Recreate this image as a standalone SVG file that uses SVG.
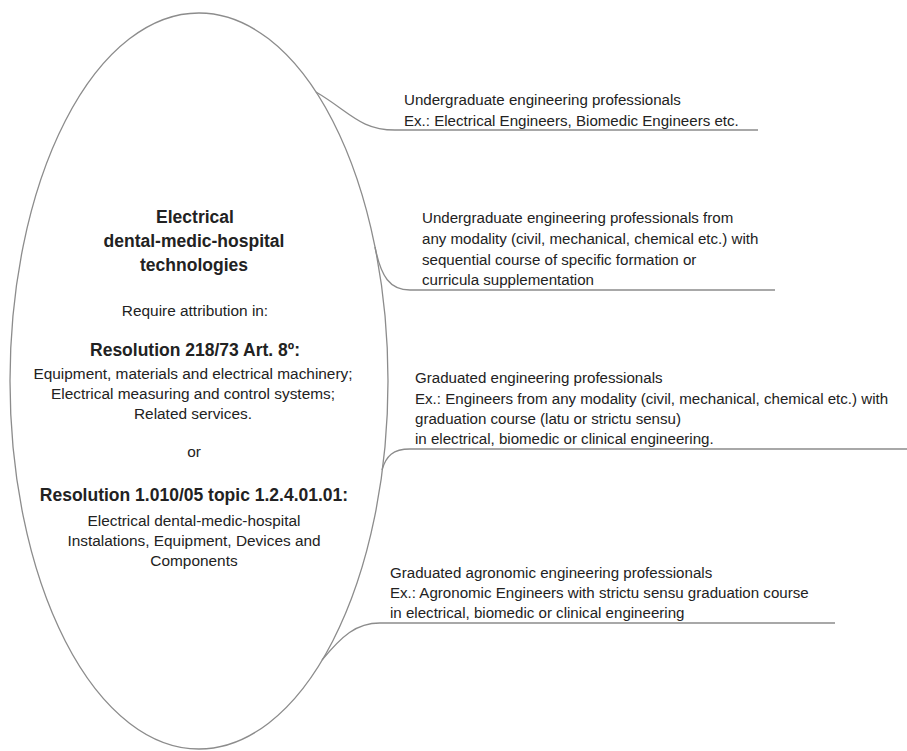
<svg xmlns="http://www.w3.org/2000/svg" width="907" height="751" viewBox="0 0 907 751">
<style>
.bg{fill:#ffffff}
.shape{fill:none;stroke:#8c8c8c;stroke-width:1.3}
.conn{fill:none;stroke:#8c8c8c;stroke-width:1.3}
.t{font-family:"Liberation Sans",Arial,sans-serif;fill:#222222}
.title{font-size:17.5px;font-weight:bold;text-anchor:middle}
.body{font-size:15.4px;text-anchor:middle}
.side{font-size:15.1px}
</style>
<rect class="bg" x="0" y="0" width="907" height="751"/>
<g id="connectors">
<path class="conn" d="M316,92 C350,112 360,130 395,130 L758,130"/>
<path class="conn" d="M375,247 C381,277 390,290 410,290 L775,290"/>
<path class="conn" d="M382,470 C386,456 393,449 410,449 L907,449"/>
<path class="conn" d="M322,660 C342,636 356,623 380,623 L835,623"/>
</g>
<g id="node-main">
<ellipse class="shape" cx="199" cy="381" rx="189" ry="368"/>
<text class="t title" x="195" y="223">Electrical</text>
<text class="t title" x="194" y="247">dental-medic-hospital</text>
<text class="t title" x="194" y="271">technologies</text>
<text class="t body" x="195" y="316">Require attribution in:</text>
<text class="t title" x="195" y="356">Resolution 218/73 Art. 8º:</text>
<text class="t body" x="193" y="379">Equipment, materials and electrical machinery;</text>
<text class="t body" x="193" y="399">Electrical measuring and control systems;</text>
<text class="t body" x="193" y="419">Related services.</text>
<text class="t body" x="194" y="457">or</text>
<text class="t title" x="194" y="501">Resolution 1.010/05 topic 1.2.4.01.01:</text>
<text class="t body" x="194" y="526">Electrical dental-medic-hospital</text>
<text class="t body" x="194" y="546">Instalations, Equipment, Devices and</text>
<text class="t body" x="194" y="566">Components</text>
</g>
<g id="node-undergrad">
<text class="t side" x="404" y="105">Undergraduate engineering professionals</text>
<text class="t side" x="404" y="126">Ex.: Electrical Engineers, Biomedic Engineers etc.</text>
</g>
<g id="node-undergrad-any">
<text class="t side" x="422" y="223">Undergraduate engineering professionals from</text>
<text class="t side" x="422" y="244">any modality (civil, mechanical, chemical etc.) with</text>
<text class="t side" x="422" y="265">sequential course of specific formation or</text>
<text class="t side" x="422" y="285">curricula supplementation</text>
</g>
<g id="node-graduated">
<text class="t side" x="415" y="383">Graduated engineering professionals</text>
<text class="t side" x="415" y="404">Ex.: Engineers from any modality (civil, mechanical, chemical etc.) with</text>
<text class="t side" x="415" y="424">graduation course (latu or strictu sensu)</text>
<text class="t side" x="415" y="444">in electrical, biomedic or clinical engineering.</text>
</g>
<g id="node-agronomic">
<text class="t side" x="390" y="578">Graduated agronomic engineering professionals</text>
<text class="t side" x="390" y="598">Ex.: Agronomic Engineers with strictu sensu graduation course</text>
<text class="t side" x="390" y="618">in electrical, biomedic or clinical engineering</text>
</g>
</svg>
